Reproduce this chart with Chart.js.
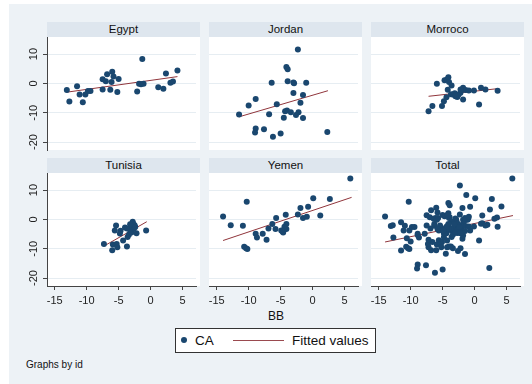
<!DOCTYPE html>
<html>
<head>
<meta charset="utf-8">
<script src="https://cdn.jsdelivr.net/npm/chart.js@4.4.1/dist/chart.umd.min.js"></script>
<style>
body { margin: 0; background: #fff; font-family: "Liberation Sans", Arial, sans-serif; color: #111; }
#graph { position: relative; width: 532px; height: 384px; overflow: hidden; }
#bg { position: absolute; left: 9px; top: 4px; width: 523px; height: 380px; background: #edf2f6; }
.plot { position: absolute; background: #fff; }
.strip { position: absolute; background: #dee6ee; font-size: 11.5px; text-align: center; line-height: 15px; }
canvas { position: absolute; }
#xtitle { position: absolute; left: 226px; width: 100px; top: 309px; text-align: center; font-size: 12px; }
#legend { position: absolute; left: 175px; top: 328px; width: 201px; height: 25px; box-sizing: border-box;
          border: 1px solid #333; background: #fff; font-size: 13.5px; }
#legend span { position: absolute; }
#note { position: absolute; left: 26px; top: 359px; font-size: 10px; }
</style>
</head>
<body>
<div id="graph">
  <div id="bg"></div>
  <div id="xtitle">BB</div>
  <div id="legend">
    <span style="left:5px;top:8px;width:6px;height:6px;border-radius:50%;background:#1a476f"></span>
    <span style="left:19px;top:4px">CA</span>
    <span style="left:57px;top:11px;width:51px;height:0;border-top:1.4px solid #9a4a4f"></span>
    <span style="left:116px;top:4px">Fitted values</span>
  </div>
  <div id="note">Graphs by id</div>
</div>
<script>
// valeurs (BB en x, CA en y)
const egyptBB = [-13.1,-12.7,-11.5,-11.1,-10.6,-10.2,-9.8,-9.4,-7.5,-7.5,-6.8,-7.0,-6.3,-6.1,-6.0,-5.8,-5.2,-5.0,-2.1,-1.8,-1.5,-1.3,-1.1,1.2,2.0,2.4,3.1,3.5,4.2];
const egyptCA = [-2.3,-6.2,-1.0,-3.8,-6.4,-3.8,-2.6,-2.6,1.4,-2.1,3.1,0.7,-2.2,0.5,4.0,2.3,-2.9,1.5,-2.8,-0.1,-0.3,8.3,-0.1,-1.3,-1.8,3.4,0.2,0.6,4.4];

const jordanBB = [-2.3,-4.1,-3.9,-6.4,-3.9,-3.0,-2.9,-1.0,-3.0,-1.5,-8.9,-10.0,-5.6,-1.9,-11.5,-6.8,-4.3,-4.0,-3.4,-2.2,-2.6,-4.5,-1.5,-8.9,-9.0,-7.6,-6.2,-5.0,2.3];
const jordanCA = [11.5,5.6,4.8,0.2,0.7,0.3,0,0.2,-3.3,-4.0,-5.3,-7.5,-7.1,-6.6,-10.6,-10.5,-9.5,-9.2,-9.8,-9.8,-10.8,-11.7,-11.8,-15.4,-16.7,-15.6,-18.2,-17.1,-16.6];

const morrocoBB = [-7.2,-6.6,-5.9,-5.1,-4.8,-4.7,-4.4,-4.3,-4.1,-4.0,-4.2,-3.6,-3.7,-3.4,-3.1,-2.7,-2.5,-2.2,-2.1,-1.8,-1.8,-1.4,-0.9,-0.1,0.7,1.0,1.7,3.6,-3.0,-2.2];
const morrocoCA = [-9.5,-7.7,-0.1,-7.7,-6.1,1.1,-4.7,1.4,2.1,0.5,-2.2,-0.7,-3.7,-3.8,-3.4,-4.6,-3.8,-3.2,-2.4,-1.5,-5.5,-2.3,-2.4,-2.4,-7.2,-1.5,-2.1,-2.5,-4.4,-2.1];

const tunisiaBB = [-7.3,-6.0,-5.9,-5.3,-5.2,-5.4,-5.6,-4.7,-4.8,-4.3,-4.0,-3.7,-3.6,-3.4,-3.2,-3.1,-3.0,-2.8,-2.7,-2.6,-2.5,-2.4,-2.2,-0.7,-3.2,-3.7];
const tunisiaCA = [-8.4,-10.5,-8.6,-8.4,-9.5,-2.1,-3.8,-3.9,-4.8,-7.2,-2.8,-9.2,-6.0,-5.2,-3.7,-2.5,-4.5,-0.8,-1.5,-3.1,-2.0,-2.6,-4.7,-3.8,-1.7,-3.1];

const yemenBB = [5.9,-10.3,-14.0,-12.8,-10.9,-10.7,-10.4,-10.2,-8.9,-8.7,-7.8,-7.2,-6.9,-6.3,-5.8,-5.7,-4.7,-4.6,-4.4,-4.1,-4.1,-4.2,-2.3,-1.9,-1.5,-0.9,-0.7,0.1,1.2,2.7,-4.4,-4.9];
const yemenCA = [13.9,6.0,1.0,-2.0,-2.2,-9.3,-9.8,-10.1,-4.9,-6.2,-4.9,-6.9,-3.1,-1.6,-3.3,0.5,-4.1,-4.5,-3.4,-3.3,-1.6,1.6,1.7,3.9,0.5,0.9,4.3,7.2,1.3,6.9,-2.5,-3.8];

// droites ajustées (extrémités)
const egyptFitBB = [-13.1, 4.2],   egyptFitCA = [-3.0, 2.3];
const jordanFitBB = [-11.5, 2.4],  jordanFitCA = [-11.4, -2.5];
const morrocoFitBB = [-7.2, 3.6],  morrocoFitCA = [-4.4, -1.8];
const tunisiaFitBB = [-7.3, -0.6], tunisiaFitCA = [-9.1, -0.8];
const yemenFitBB = [-14.0, 6.1],   yemenFitCA = [-7.2, 7.5];
const totalFitBB = [-14.0, 6.0],   totalFitCA = [-7.7, 1.3];

const xTicks = [-15, -10, -5, 0, 5];
const yTicks = [-20, -10, 0, 10];

const navy = '#1a476f';
const maroon = '#90353b';
const axisColor = '#444';
const gridColor = '#e6edf2';
const tickFont = {family: '"Liberation Sans", Arial, sans-serif', size: 11};

function zip(xs, ys) {
    return xs.map((x, i) => ({x: x, y: ys[i]}));
}

const panels = [
    {name: 'Egypt',   bb: egyptBB,   ca: egyptCA,   fbb: egyptFitBB,   fca: egyptFitCA,   col: 0, row: 0},
    {name: 'Jordan',  bb: jordanBB,  ca: jordanCA,  fbb: jordanFitBB,  fca: jordanFitCA,  col: 1, row: 0},
    {name: 'Morroco', bb: morrocoBB, ca: morrocoCA, fbb: morrocoFitBB, fca: morrocoFitCA, col: 2, row: 0},
    {name: 'Tunisia', bb: tunisiaBB, ca: tunisiaCA, fbb: tunisiaFitBB, fca: tunisiaFitCA, col: 0, row: 1},
    {name: 'Yemen',   bb: yemenBB,   ca: yemenCA,   fbb: yemenFitBB,   fca: yemenFitCA,   col: 1, row: 1},
    {name: 'Total',
     bb: egyptBB.concat(jordanBB, morrocoBB, tunisiaBB, yemenBB),
     ca: egyptCA.concat(jordanCA, morrocoCA, tunisiaCA, yemenCA),
     fbb: totalFitBB, fca: totalFitCA, col: 2, row: 1}
];

const colLeft = [47, 209, 371];
const rowTop = [37, 173];
const plotW = 153, plotH = 113;
const graph = document.getElementById('graph');

function addDiv(cls, l, t, w, h, text) {
    const d = document.createElement('div');
    d.className = cls;
    d.style.left = l + 'px'; d.style.top = t + 'px';
    d.style.width = w + 'px'; d.style.height = h + 'px';
    if (text) d.textContent = text;
    graph.appendChild(d);
}

panels.forEach(function(p) {
    const L = colLeft[p.col], T = rowTop[p.row];
    const bottomRow = p.row === 1, leftCol = p.col === 0;
    addDiv('plot', L, T, plotW, plotH);
    addDiv('strip', L, T - 15, plotW, 15, p.name);

    const canvas = document.createElement('canvas');
    canvas.width = plotW + 38;
    canvas.height = plotH + 12 + (bottomRow ? 30 : 12);
    canvas.style.left = (L - 38) + 'px';
    canvas.style.top = (T - 12) + 'px';
    graph.appendChild(canvas);

    new Chart(canvas.getContext('2d'), {
        type: 'scatter',
        data: {
            datasets: [{
                data: zip(p.bb, p.ca),
                backgroundColor: navy,
                borderColor: navy,
                pointRadius: 3,
                pointBorderWidth: 0
            }, {
                data: zip(p.fbb, p.fca),
                showLine: true,
                borderColor: maroon,
                borderWidth: 1,
                pointRadius: 0
            }]
        },
        options: {
            responsive: false,
            animation: false,
            events: [],
            layout: {padding: {top: 12, bottom: bottomRow ? 0 : 12, left: 0, right: 0}},
            plugins: {legend: {display: false}, tooltip: {enabled: false}},
            scales: {
                x: {
                    type: 'linear', min: -16.2, max: 7.1,
                    display: bottomRow,
                    grid: {drawOnChartArea: false, drawTicks: true, tickLength: 4, tickColor: axisColor},
                    border: {color: axisColor},
                    ticks: {font: tickFont, color: '#222', padding: 4, maxRotation: 0, includeBounds: false},
                    afterBuildTicks: s => { s.ticks = xTicks.map(v => ({value: v})); },
                    afterFit: s => { s.height = bottomRow ? 30 : 0; }
                },
                y: {
                    type: 'linear', min: -22.7, max: 15.8,
                    grid: {color: gridColor, drawTicks: leftCol, tickLength: 4, tickColor: axisColor},
                    border: {display: leftCol, color: axisColor},
                    ticks: {display: leftCol, font: tickFont, color: '#222', padding: 1,
                            minRotation: 90, maxRotation: 90, crossAlign: 'center'},
                    afterBuildTicks: s => { s.ticks = yTicks.map(v => ({value: v})); },
                    afterFit: s => { s.width = 38; }
                }
            }
        }
    });
});
</script>
</body>
</html>
